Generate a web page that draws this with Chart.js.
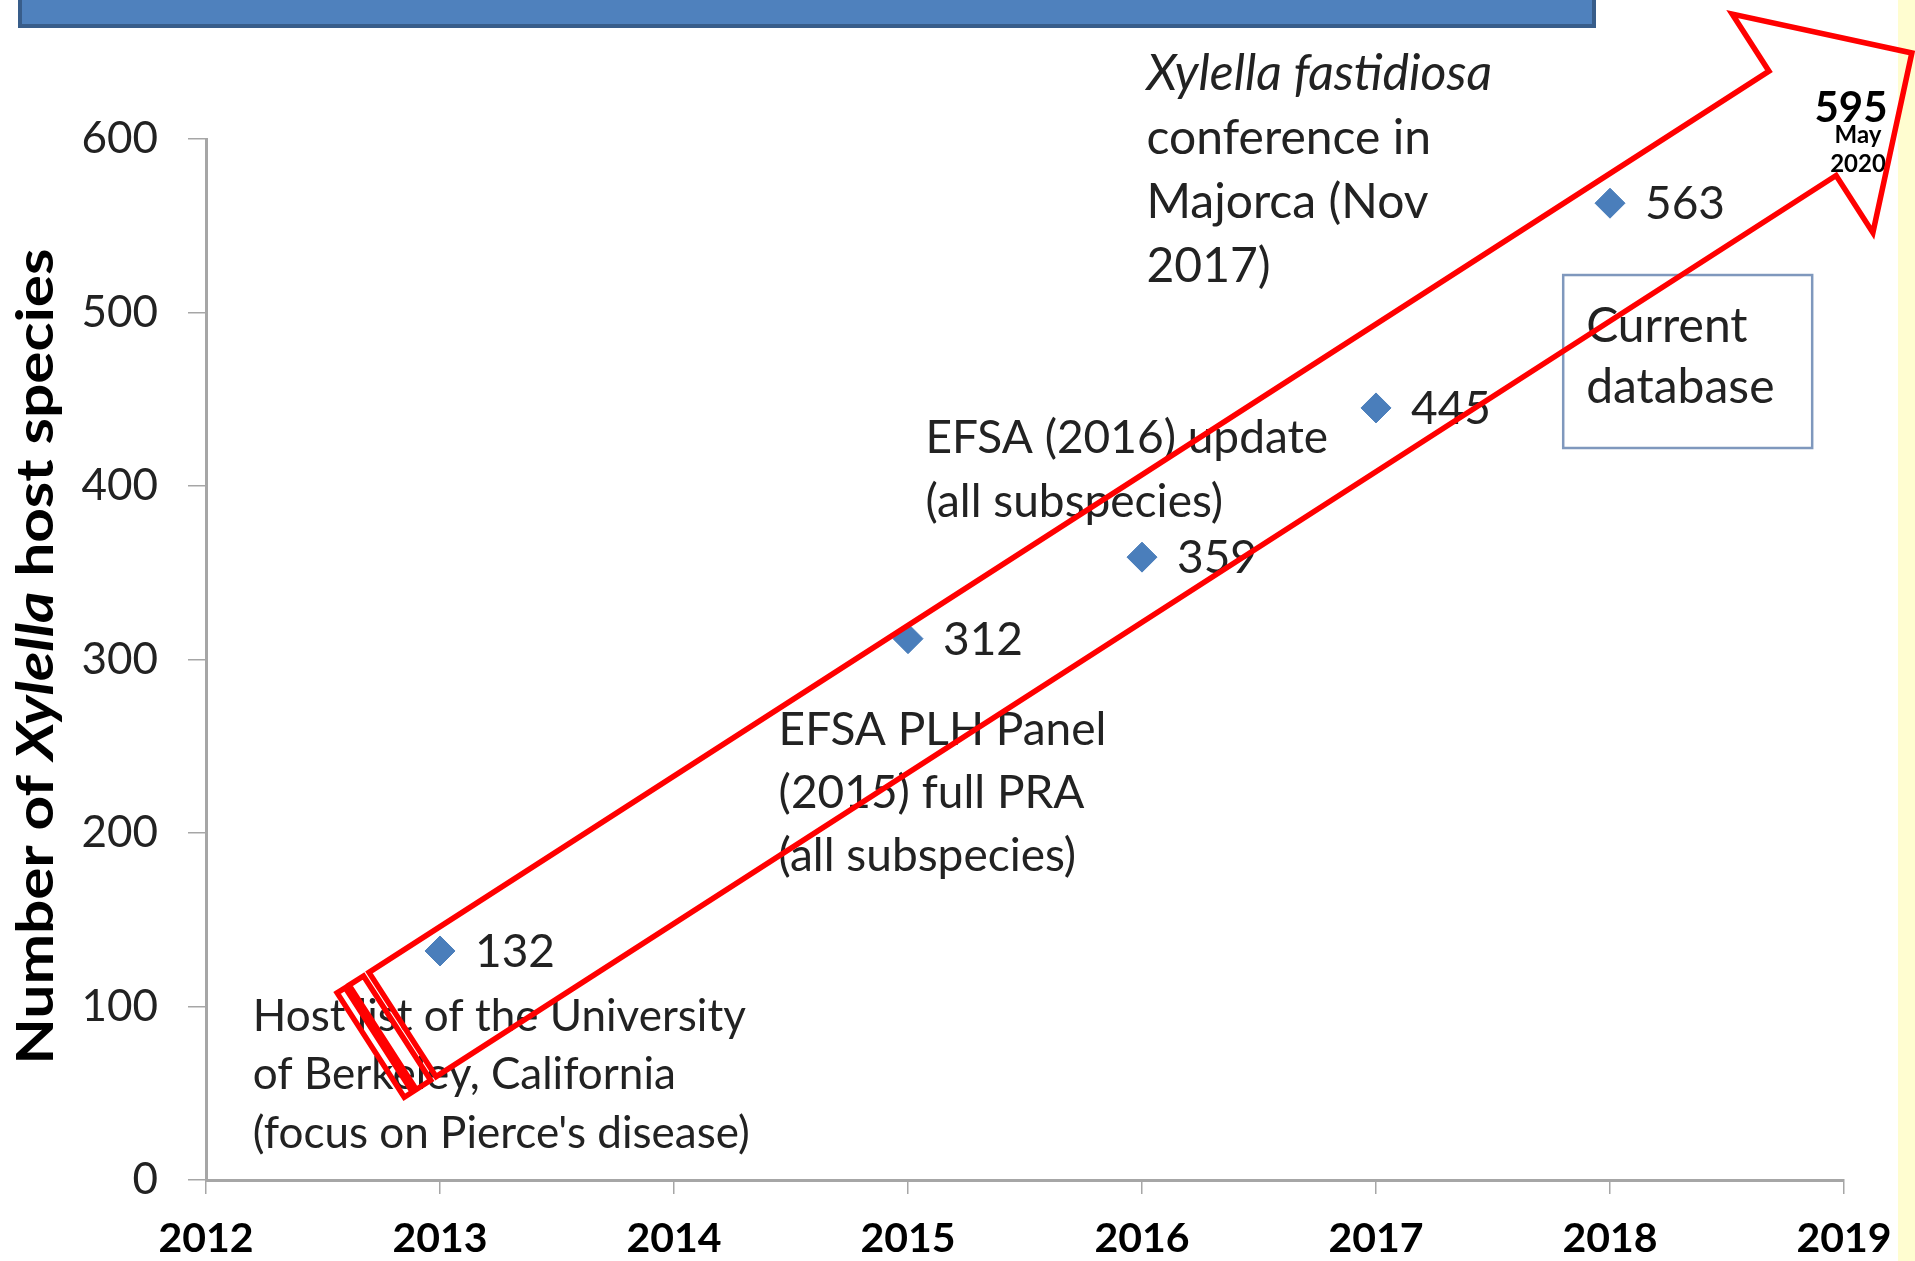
<!DOCTYPE html>
<html>
<head>
<meta charset="utf-8">
<title>Xylella host species</title>
<script src="https://cdn.jsdelivr.net/npm/chart.js@4/dist/chart.umd.min.js"></script>
<style>
  html, body { margin: 0; padding: 0; background: #fff; }
  #wrap { width: 1915px; height: 1261px; }
</style>
</head>
<body>
<div id="wrap"><canvas id="hostChart" width="1915" height="1261"></canvas></div>
<script>
const years = [2013, 2015, 2016, 2017, 2018];
const hostCounts = [132, 312, 359, 445, 563];
const yearTicks = ['2012', '2013', '2014', '2015', '2016', '2017', '2018', '2019'];
const latestCount = 595;
const latestDate = ['May', '2020'];

const FONT = 'Lato, "Open Sans", sans-serif';

// notes anchored in data units (year, count) at the first baseline
const notes = [
    { x: 2012.2, y: 86, size: 44, lh: 58.5,
      lines: ['Host list of the University', 'of Berkeley, California', "(focus on Pierce's disease)"] },
    { x: 2014.447, y: 251, size: 46, lh: 63,
      lines: ['EFSA PLH Panel', '(2015) full PRA', '(all subspecies)'] },
    { x: 2015.075, y: 419, size: 46, lh: 63.5,
      lines: ['EFSA (2016) update', '(all subspecies)'] },
    { x: 2016.019, y: 628, size: 48, lh: 64, italicFirst: true, firstSize: 50,
      lines: ['Xylella fastidiosa', 'conference in', 'Majorca (Nov', '2017)'] },
    { x: 2017.898, y: 483, size: 48, lh: 61.5,
      lines: ['Current', 'database'] }
];
const dbBox = [2017.80, 521.6, 2018.864, 421.9];   // x1, y1, x2, y2
const arrowTail = [2012.84, 89.6];
const arrowTip = [2019.29, 649.6];
const latestAt = [2019.03, 609.8];

let hostChart;

function drawYTitle(ctx, chart) {
    const parts = [['Number of ', 'bold'], ['Xylella', 'italic bold'], [' host species', 'bold']];
    const size = 52;
    ctx.save();
    ctx.translate(53, (chart.chartArea.top + chart.chartArea.bottom) / 2 - 3);
    ctx.rotate(-Math.PI / 2);
    ctx.scale(1.16, 1);
    let total = 0;
    parts.forEach(p => {
        ctx.font = `${p[1]} ${size}px ${FONT}`;
        total += ctx.measureText(p[0]).width;
    });
    let x = -total / 2;
    ctx.fillStyle = '#000';
    ctx.textBaseline = 'alphabetic';
    parts.forEach(p => {
        ctx.font = `${p[1]} ${size}px ${FONT}`;
        ctx.fillText(p[0], x, 0);
        x += ctx.measureText(p[0]).width;
    });
    ctx.restore();
}

function drawNotes(ctx, chart) {
    const xs = chart.scales.x, ys = chart.scales.y;
    ctx.save();
    ctx.fillStyle = '#222';
    ctx.textBaseline = 'alphabetic';
    ctx.textAlign = 'left';
    notes.forEach(n => {
        const px = xs.getPixelForValue(n.x);
        const py = ys.getPixelForValue(n.y);
        n.lines.forEach((line, i) => {
            const first = n.italicFirst && i === 0;
            ctx.font = (first ? 'italic ' : '') + `${first ? n.firstSize : n.size}px ${FONT}`;
            ctx.fillText(line, px, py + i * n.lh);
        });
    });

    // box round "Current database"
    const bx1 = xs.getPixelForValue(dbBox[0]), by1 = ys.getPixelForValue(dbBox[1]);
    const bx2 = xs.getPixelForValue(dbBox[2]), by2 = ys.getPixelForValue(dbBox[3]);
    ctx.strokeStyle = '#7f98bd';
    ctx.lineWidth = 2.5;
    ctx.strokeRect(bx1, by1, bx2 - bx1, by2 - by1);

    // value labels next to the diamonds
    ctx.font = `46px ${FONT}`;
    ctx.fillStyle = '#222';
    chart.getDatasetMeta(0).data.forEach((pt, i) => {
        ctx.fillText(String(hostCounts[i]), pt.x + 35, pt.y + 16);
    });

    // latest count inside the arrow head
    const lx = xs.getPixelForValue(latestAt[0]), ly = ys.getPixelForValue(latestAt[1]);
    ctx.fillStyle = '#000';
    ctx.textAlign = 'center';
    ctx.font = `bold 42px ${FONT}`;
    ctx.fillText(String(latestCount), lx, ly);
    ctx.font = `bold 24px ${FONT}`;
    ctx.fillText(latestDate[0], lx + 7, ly + 21);
    ctx.fillText(latestDate[1], lx + 7, ly + 50);
    ctx.restore();
}

function drawArrow(ctx, chart) {
    const xs = chart.scales.x, ys = chart.scales.y;
    const tx = xs.getPixelForValue(arrowTail[0]), ty = ys.getPixelForValue(arrowTail[1]);
    const hx = xs.getPixelForValue(arrowTip[0]), hy = ys.getPixelForValue(arrowTip[1]);
    const len = Math.hypot(hx - tx, hy - ty);
    const shaft = 62, head = 130, headLen = 130;
    ctx.save();
    ctx.translate(tx, ty);
    ctx.rotate(Math.atan2(hy - ty, hx - tx));
    ctx.beginPath();
    ctx.moveTo(0, -shaft);
    ctx.lineTo(len - headLen, -shaft);
    ctx.lineTo(len - headLen, -head);
    ctx.lineTo(len, 0);
    ctx.lineTo(len - headLen, head);
    ctx.lineTo(len - headLen, shaft);
    ctx.lineTo(0, shaft);
    ctx.closePath();
    // the two stripes at the tail
    ctx.rect(-23.6, -shaft, 17.1, 2 * shaft);
    ctx.rect(-37.9, -shaft, 9.7, 2 * shaft);
    ctx.strokeStyle = '#ff0000';
    ctx.lineWidth = 5.5;
    ctx.lineJoin = 'miter';
    ctx.stroke();
    ctx.restore();
}

const slidePlugin = {
    id: 'slide',
    beforeDraw(chart) {
        const ctx = chart.ctx;
        ctx.save();
        ctx.fillStyle = '#fff';
        ctx.fillRect(0, 0, chart.width, chart.height);
        ctx.fillStyle = '#fffdd0';   // yellow strip on the right edge
        ctx.fillRect(1898, 0, chart.width - 1898, chart.height);
        ctx.fillStyle = '#4f81bd';   // title bar, cut off at the top
        ctx.fillRect(20, -10, 1574, 36);
        ctx.strokeStyle = '#385d8a';
        ctx.lineWidth = 4;
        ctx.strokeRect(20, -10, 1574, 36);
        ctx.restore();
    },
    afterDatasetsDraw(chart) {
        drawYTitle(chart.ctx, chart);
        drawNotes(chart.ctx, chart);
    },
    afterDraw(chart) {
        drawArrow(chart.ctx, chart);
    }
};

const ctx = document.getElementById('hostChart').getContext('2d');
hostChart = new Chart(ctx, {
    type: 'scatter',
    data: {
        datasets: [{
            data: years.map((yr, i) => ({ x: yr, y: hostCounts[i] })),
            pointStyle: 'rectRot',
            pointRadius: 15,
            pointHoverRadius: 15,
            backgroundColor: '#4a7ebb',
            borderColor: '#4a7ebb',
            borderWidth: 1
        }]
    },
    options: {
        responsive: false,
        animation: false,
        events: [],
        layout: { padding: { top: 139, right: 71, left: 0, bottom: 0 } },
        plugins: { legend: { display: false }, tooltip: { enabled: false } },
        scales: {
            x: {
                type: 'linear',
                min: 2012,
                max: 2019,
                afterFit: s => { s.height = 81; },
                border: { color: '#a6a6a6', width: 3 },
                grid: { drawOnChartArea: false, tickLength: 14, color: '#a6a6a6', lineWidth: 1.5 },
                ticks: {
                    stepSize: 1,
                    padding: 20,
                    color: '#000',
                    font: { family: FONT, size: 41, weight: 'bold' },
                    callback: (v, i) => yearTicks[i]
                }
            },
            y: {
                min: 0,
                max: 600,
                afterFit: s => { s.width = 206; },
                border: { color: '#a6a6a6', width: 3 },
                grid: { drawOnChartArea: false, tickLength: 18, color: '#a6a6a6', lineWidth: 1.5 },
                ticks: {
                    stepSize: 100,
                    padding: 30,
                    color: '#222',
                    font: { family: FONT, size: 44 }
                }
            }
        }
    },
    plugins: [slidePlugin]
});
</script>
</body>
</html>
